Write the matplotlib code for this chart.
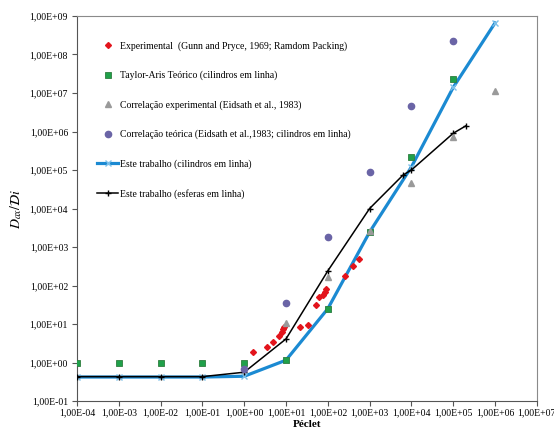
import numpy as np
import matplotlib
matplotlib.use("Agg")
import matplotlib.pyplot as plt
from matplotlib.ticker import FuncFormatter, LogLocator, NullLocator

plt.rcParams['font.family'] = ['Liberation Serif', 'DejaVu Serif']
plt.rcParams['mathtext.fontset'] = 'stix'

# Experimental (Gunn and Pryce, 1969)
exp_pe = [1.6, 3.6, 5.0, 6.8, 8.2, 8.6, 9.1, 22, 34, 52, 63, 76, 85, 92, 256, 407, 560]
exp_d = [1.84, 2.5, 3.5, 4.9, 6.3, 7.3, 8.2, 8.5, 9.2, 31, 51, 58, 68, 79, 177, 326, 500]

# Taylor-Aris teorico
ta_pe = [1e-4, 1e-3, 1e-2, 1e-1, 1e0, 1e1, 1e2, 1e3, 1e4, 1e5]
ta_d = [1.0, 1.0, 1.0, 1.0, 1.0, 1.15, 24, 2.4e3, 2.2e5, 2.3e7]

# Correlacao experimental (Eidsath)
ce_pe = [1e1, 1e2, 1e3, 1e4, 1e5, 1e6]
ce_d = [10.7, 165, 2.6e3, 4.6e4, 7.0e5, 1.1e7]

# Correlacao teorica (Eidsath)
ct_pe = [1e0, 1e1, 1e2, 1e3, 1e4, 1e5]
ct_d = [0.68, 35, 1.8e3, 9.0e4, 4.6e6, 2.2e8]

# Este trabalho (cilindros)
cil_pe = [1e-4, 1e-3, 1e-2, 1e-1, 1e0, 1e1, 1e2, 1e3, 1e4, 1e5, 1e6]
cil_d = [0.42, 0.42, 0.42, 0.42, 0.44, 1.15, 25, 2.45e3, 1.2e5, 1.4e7, 6.6e8]

# Este trabalho (esferas)
esf_pe = [1e-4, 1e-3, 1e-2, 1e-1, 1e0, 1e1, 1e2, 1e3, 6.3e3, 1e4, 1e5, 2e5]
esf_d = [0.43, 0.43, 0.43, 0.43, 0.56, 4.1, 240, 1.0e4, 7.4e4, 1.0e5, 9.0e5, 1.4e6]

fig = plt.figure(figsize=(5.54, 4.3), dpi=100)
ax = fig.add_axes([0.139, 0.0674, 0.830, 0.8954])

ax.plot(exp_pe, exp_d, 'D', color='#e3141c', ms=3.0, ls='none', zorder=4,
        label='Experimental  (Gunn and Pryce, 1969; Ramdom Packing)')
ax.plot(ta_pe, ta_d, 's', color='#1fa04a', mec='#2e7d3e', mew=0.6, ms=4.6, ls='none', zorder=4,
        label='Taylor-Aris Teórico (cilindros em linha)')
ax.plot(ce_pe, ce_d, '^', color='#9a9a9a', ms=5.0, ls='none', zorder=5,
        label='Correlação experimental (Eidsath et al., 1983)')
ax.plot(ct_pe, ct_d, 'o', color='#6a64a6', ms=4.5, ls='none', zorder=4,
        label='Correlação teórica (Eidsath et al.,1983; cilindros em linha)')
ax.plot(cil_pe, cil_d, '-x', color='#1b8ad2', mec='#7cc0ea', lw=2.3, ms=5, zorder=3,
        label='Este trabalho (cilindros em linha)')
ax.plot(esf_pe, esf_d, '-+', color='black', lw=1.1, ms=5, zorder=3,
        label='Este trabalho (esferas em linha)')

ax.set_xscale('log')
ax.set_yscale('log')
ax.set_xlim(1e-4, 1e7)
ax.set_ylim(1e-1, 1e9)

ax.xaxis.set_major_locator(LogLocator(base=10, numticks=20))
ax.yaxis.set_major_locator(LogLocator(base=10, numticks=20))
ax.xaxis.set_minor_locator(NullLocator())
ax.yaxis.set_minor_locator(NullLocator())


def sci_comma(v, pos):
    e = int(round(np.log10(v)))
    return '1,00E%s%02d' % ('+' if e >= 0 else '-', abs(e))


ax.xaxis.set_major_formatter(FuncFormatter(sci_comma))
ax.yaxis.set_major_formatter(FuncFormatter(sci_comma))
ax.tick_params(axis='both', labelsize=7, length=3.5, width=0.8, color='#555555', pad=3)
ax.tick_params(axis='x', pad=2)

for s in ['top', 'right']:
    ax.spines[s].set_color('#8a8a8a')
for s in ['left', 'bottom']:
    ax.spines[s].set_color('#555555')

ax.set_xlabel('Péclet', fontsize=8, fontweight='bold', labelpad=2)
ax.set_ylabel(r'$\mathbf{\mathit{D_{ax}}}/\mathbf{\mathcal{D}\mathit{i}}$', fontsize=10, labelpad=4)

leg = ax.legend(loc='upper left', bbox_to_anchor=(0.035, 0.945), frameon=False, fontsize=7,
                labelspacing=2.05, handlelength=2.2, handletextpad=0.2, borderaxespad=0)

fig.savefig('out.png', dpi=100)
